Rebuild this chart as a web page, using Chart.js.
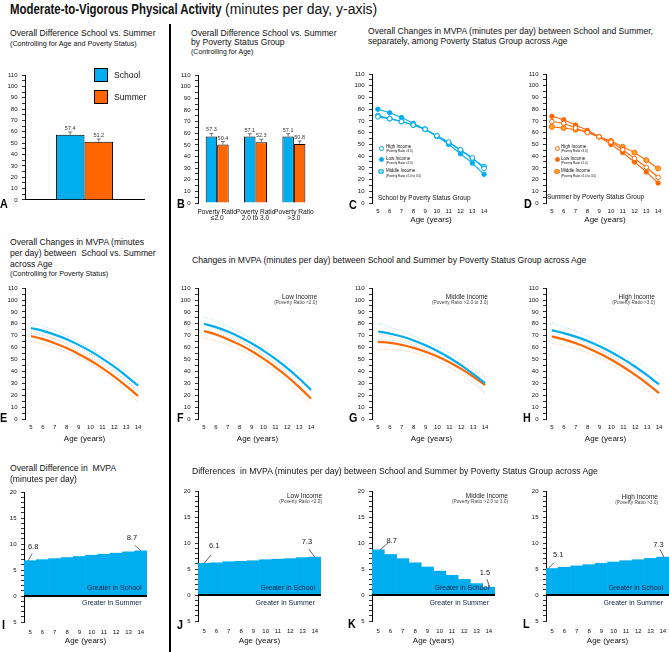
<!DOCTYPE html>
<html lang="en">
<head>
<meta charset="UTF-8" />
<title>Moderate-to-Vigorous Physical Activity</title>
<script src="https://cdn.jsdelivr.net/npm/chart.js"></script>
<style>
  html, body { margin: 0; padding: 0; background: #fff; }
  body { position: relative; width: 669px; height: 652px; overflow: hidden; font-family: "Liberation Sans", Arial, sans-serif; color: #111; }
  canvas { position: absolute; }
  .box { position: absolute; border: 1px solid #000; box-sizing: border-box; }
  .dot { position: absolute; border-radius: 50%; box-sizing: border-box; border: 1px solid; }
  #divider { position: absolute; left: 169px; top: 24px; width: 2px; height: 628px; background: #000; }
</style>
</head>
<body>
<div id="divider"></div>
<script>
const BLUE = '#00AEEF', ORANGE = '#FF6600';
const LIGHT_BLUE = '#80D4F5', LIGHT_ORANGE = '#FFA733';

// ages on the x axis
const ages = ['5', '6', '7', '8', '9', '10', '11', '12', '13', '14'];

// A: overall difference
const overallSchool = [57.4];
const overallSummer = [51.2];
const overallSchoolErr = [2.5];
const overallSummerErr = [2.5];

// B: by poverty group
const groupLabels = [['Poverty Ratio', '\u22642.0'], ['Poverty Ratio', '2.0 to 3.0'], ['Poverty Ratio', '>3.0']];
const groupSchool = [57.3, 57.1, 57.1];
const groupSummer = [50.4, 52.3, 50.8];
const groupSchoolErr = [2.5, 2.5, 2.5];
const groupSummerErr = [2.5, 2.5, 2.5];

// C: school by poverty group
const cHigh = [73.5, 72, 69.5, 66.5, 63, 57.5, 52, 45.5, 38.5, 29.5];
const cLow = [80, 77, 73, 68, 63, 57, 50, 42, 34, 24.5];
const cMid = [74.5, 72, 69.5, 66.5, 63, 57, 51.5, 45, 38, 31];

// D: summer by poverty group
const dHigh = [69.5, 68, 64, 60, 56.5, 52, 45.5, 38, 30.5, 22];
const dLow = [74, 71, 66.5, 62, 56.5, 50, 43, 35, 26.5, 17];
const dMid = [65, 64, 62.5, 61, 56.5, 53, 48, 43, 36.5, 29.5];

// E: overall curves with confidence limits
const eSchool = [76.5, 74.1, 70.9, 67.0, 62.3, 57.0, 50.8, 44.0, 36.3, 28.0];
const eSchoolUp = [81.0, 78.1, 74.4, 70.0, 64.8, 59.5, 53.8, 47.5, 40.3, 33.0];
const eSchoolLo = [72.0, 70.1, 67.4, 64.0, 59.8, 54.5, 47.8, 40.5, 32.3, 23.0];
const eSummer = [69.7, 67.1, 63.7, 59.6, 54.7, 49.2, 42.8, 35.7, 27.8, 19.3];
const eSummerUp = [74.2, 71.1, 67.2, 62.6, 57.2, 51.7, 45.8, 39.2, 31.8, 24.3];
const eSummerLo = [65.2, 63.1, 60.2, 56.6, 52.2, 46.7, 39.8, 32.2, 23.8, 14.3];

// F: low income
const fSchool = [80.0, 77.2, 73.5, 69.0, 63.7, 57.5, 50.5, 42.7, 34.0, 24.5];
const fSchoolUp = [86.0, 82.2, 78.0, 73.0, 67.2, 61.0, 54.5, 47.2, 39.5, 31.0];
const fSchoolLo = [74.0, 72.2, 69.0, 65.0, 60.2, 54.0, 46.5, 38.2, 28.5, 18.0];
const fSummer = [73.9, 71.0, 67.1, 62.5, 57.1, 50.7, 43.6, 35.7, 26.8, 17.2];
const fSummerUp = [79.9, 76.0, 71.6, 66.5, 60.6, 54.2, 47.6, 40.2, 32.3, 23.7];
const fSummerLo = [67.9, 66.0, 62.6, 58.5, 53.6, 47.2, 39.6, 31.2, 21.3, 10.7];

// G: middle income
const gSchool = [73.5, 71.8, 69.3, 66.0, 61.9, 57.1, 51.5, 45.1, 37.9, 30.0];
const gSchoolUp = [80.0, 77.3, 73.8, 70.0, 65.4, 60.6, 55.5, 49.6, 43.4, 37.0];
const gSchoolLo = [67.0, 66.3, 64.8, 62.0, 58.4, 53.6, 47.5, 40.6, 32.4, 23.0];
const gSummer = [64.8, 64.0, 62.3, 59.8, 56.5, 52.5, 47.7, 42.1, 35.7, 28.5];
const gSummerUp = [71.3, 69.5, 66.8, 63.8, 60.0, 56.0, 51.7, 46.6, 41.2, 35.5];
const gSummerLo = [58.3, 58.5, 57.8, 55.8, 53.0, 49.0, 43.7, 37.6, 30.2, 21.5];

// H: high income
const hSchool = [74.5, 72.2, 69.2, 65.5, 61.1, 56.1, 50.3, 43.9, 36.8, 29.0];
const hSchoolUp = [80.5, 77.2, 73.7, 69.5, 64.6, 59.6, 54.3, 48.4, 42.3, 35.5];
const hSchoolLo = [68.5, 67.2, 64.7, 61.5, 57.6, 52.6, 46.3, 39.4, 31.3, 22.5];
const hSummer = [69.4, 66.9, 63.6, 59.7, 55.0, 49.8, 43.7, 37.1, 29.8, 21.7];
const hSummerUp = [75.4, 71.9, 68.1, 63.7, 58.5, 53.3, 47.7, 41.6, 35.3, 28.2];
const hSummerLo = [63.4, 61.9, 59.1, 55.7, 51.5, 46.3, 39.7, 32.6, 24.3, 15.2];

// I-L: school minus summer
const iDiff = [6.8, 7.0, 7.2, 7.4, 7.6, 7.85, 8.05, 8.25, 8.5, 8.7];
const jDiff = [6.1, 6.2, 6.4, 6.5, 6.6, 6.8, 6.9, 7.0, 7.2, 7.3];
const kDiff = [8.7, 7.8, 7.0, 6.2, 5.4, 4.6, 3.8, 3.0, 2.2, 1.5];
const lDiff = [5.1, 5.35, 5.6, 5.85, 6.1, 6.35, 6.6, 6.8, 7.05, 7.3];

Chart.defaults.font.family = '"Liberation Sans", Arial, sans-serif';
Chart.defaults.color = '#111';

const FONT = '"Liberation Sans", Arial, sans-serif';

// whiskers, value labels, zero line, callouts
const deco = {
  id: 'deco',
  afterDatasetsDraw(chart, args, o) {
    const ctx = chart.ctx, ca = chart.chartArea, y = chart.scales.y;
    ctx.save();
    if (o.zero) {
      const y0 = y.getPixelForValue(0);
      ctx.strokeStyle = '#000';
      ctx.lineWidth = 2;
      ctx.beginPath(); ctx.moveTo(ca.left, y0); ctx.lineTo(ca.right, y0); ctx.stroke();
    }
    if (o.err) {
      ctx.font = '5.5px ' + FONT;
      ctx.textAlign = 'center';
      ctx.textBaseline = 'middle';
      chart.data.datasets.forEach((ds, di) => {
        chart.getDatasetMeta(di).data.forEach((bar, i) => {
          const top = y.getPixelForValue(ds.data[i] + ds.err[i]);
          ctx.strokeStyle = '#555';
          ctx.lineWidth = 0.8;
          ctx.beginPath();
          ctx.moveTo(bar.x, bar.y); ctx.lineTo(bar.x, top);
          ctx.moveTo(bar.x - 2, top); ctx.lineTo(bar.x + 2, top);
          ctx.stroke();
          ctx.fillStyle = '#333';
          ctx.fillText(ds.data[i].toFixed(1), bar.x, top - 3.5);
        });
      });
    }
    if (o.notes) {
      const ds = chart.data.datasets[0], meta = chart.getDatasetMeta(0);
      ctx.font = '7.5px ' + FONT;
      ctx.textAlign = 'center';
      ctx.textBaseline = 'middle';
      o.notes.forEach(n => {
        const el = meta.data[n.i];
        ctx.strokeStyle = '#222';
        ctx.lineWidth = 0.7;
        ctx.beginPath();
        ctx.moveTo(el.x + n.x0, el.y); ctx.lineTo(el.x + n.x1, el.y + n.ly);
        ctx.stroke();
        ctx.fillStyle = '#222';
        ctx.fillText(ds.data[n.i].toFixed(1), el.x + n.dx, el.y + n.dy);
      });
    }
    ctx.restore();
  }
};

function yAxis(min, max, step, major) {
  return {
    min, max,
    ticks: { stepSize: step, autoSkip: false, font: { size: 6 }, padding: 4.5, color: '#111',
      callback: v => (v % major === 0 ? String(Math.abs(v)) : '') },
    grid: { drawOnChartArea: false, tickLength: 3, color: '#000', lineWidth: 0.8 },
    border: { color: '#000', width: 1 }
  };
}

function xAges(pad) {
  return {
    type: 'category', offset: true,
    grid: { display: false, drawTicks: false },
    border: { display: false },
    ticks: { font: { size: 6 }, padding: pad, maxRotation: 0, autoSkip: false, color: '#111' },
    title: { display: true, text: 'Age (years)', font: { size: 8 }, padding: 0, color: '#111' }
  };
}

function make(area, cfg, pad) {
  const yw = pad.yw || 24, pt = pad.pt || 6, pr = pad.pr || 4, xh = pad.xh;
  const w = Math.round(area.r - area.l + yw + pr), h = Math.round(area.b - area.t + pt + xh);
  const c = document.createElement('canvas');
  c.width = w; c.height = h;
  c.style.left = (area.l - yw) + 'px';
  c.style.top = (area.t - pt) + 'px';
  c.style.width = w + 'px';
  c.style.height = h + 'px';
  document.body.appendChild(c);
  const o = cfg.options;
  o.responsive = false;
  o.animation = false;
  o.devicePixelRatio = 1;
  o.events = [];
  o.layout = { padding: { top: pt, right: pr, left: 0, bottom: 0 } };
  o.scales.y.afterFit = s => { s.width = yw; };
  o.scales.x.afterFit = s => { s.height = xh; };
  o.plugins = Object.assign({ legend: { display: false }, tooltip: { enabled: false } }, o.plugins || {});
  cfg.plugins = [deco];
  return new Chart(c, cfg);
}

function barSet(data, err, color, cp) {
  return { data, err, backgroundColor: color, borderColor: '#000', borderWidth: 1,
    categoryPercentage: cp, barPercentage: 1 };
}

function pointSet(data, color, fill, r) {
  return { data, borderColor: color, borderWidth: 1.1, pointRadius: r, pointBorderWidth: 1,
    pointBackgroundColor: fill, pointBorderColor: color, tension: 0 };
}

function curves(s, sUp, sLo, su, suUp, suLo) {
  const main = (data, color) => ({ data, borderColor: color, borderWidth: 2.2, pointRadius: 0,
    cubicInterpolationMode: 'monotone' });
  const dotted = (data, color) => ({ data, borderColor: color, borderWidth: 0.8, borderDash: [1.2, 1.6],
    pointRadius: 0, cubicInterpolationMode: 'monotone' });
  return {
    type: 'line',
    data: { labels: ages, datasets: [main(s, BLUE), main(su, ORANGE),
      dotted(sUp, '#8FD8F5'), dotted(sLo, '#9BCFE0'), dotted(suUp, '#F5B690'), dotted(suLo, '#FFB380')] },
    options: { scales: { x: xAges(4.7), y: yAxis(0, 110, 5, 10) } }
  };
}

function diffBars(data, notes) {
  return {
    type: 'bar',
    data: { labels: ages, datasets: [{ data, backgroundColor: BLUE, borderWidth: 0,
      categoryPercentage: 1, barPercentage: 1 }] },
    options: { scales: { x: xAges(6.5), y: yAxis(-5, 20, 1, 5) }, plugins: { deco: { zero: true, notes } } }
  };
}

// A
make({ l: 25, t: 73, r: 144, b: 204 }, {
  type: 'bar',
  data: { labels: [''], datasets: [
    barSet(overallSchool, overallSchoolErr, BLUE, 0.48),
    barSet(overallSummer, overallSummerErr, ORANGE, 0.48)] },
  options: {
    scales: {
      x: { grid: { display: false, drawTicks: false }, ticks: { display: false },
        border: { display: true, color: '#000', width: 1 } },
      y: yAxis(0, 110, 5, 10)
    },
    plugins: { deco: { err: true } }
  }
}, { xh: 4 });

// B
make({ l: 198, t: 73, r: 318, b: 203 }, {
  type: 'bar',
  data: { labels: groupLabels, datasets: [
    barSet(groupSchool, groupSchoolErr, BLUE, 0.6),
    barSet(groupSummer, groupSummerErr, ORANGE, 0.6)] },
  options: {
    scales: {
      x: { grid: { display: false, drawTicks: false }, border: { display: false },
        ticks: { font: { size: 6.6, lineHeight: 0.95 }, padding: 6, autoSkip: false, maxRotation: 0, color: '#111' } },
      y: yAxis(0, 110, 5, 10)
    },
    plugins: { deco: { err: true } }
  }
}, { xh: 22, pr: 2 });

// C
make({ l: 372, t: 72, r: 491, b: 203 }, {
  type: 'line',
  data: { labels: ages, datasets: [
    pointSet(cHigh, BLUE, '#fff', 2.3),
    pointSet(cMid, BLUE, LIGHT_BLUE, 2.5),
    pointSet(cLow, BLUE, BLUE, 2.2)] },
  options: { scales: { x: xAges(4.4), y: yAxis(0, 110, 5, 10) } }
}, { xh: 22 });

// D
make({ l: 546, t: 72, r: 665, b: 203 }, {
  type: 'line',
  data: { labels: ages, datasets: [
    pointSet(dHigh, ORANGE, '#fff', 2.3),
    pointSet(dMid, ORANGE, LIGHT_ORANGE, 2.5),
    pointSet(dLow, ORANGE, ORANGE, 2.2)] },
  options: { scales: { x: xAges(4.4), y: yAxis(0, 110, 5, 10) } }
}, { xh: 22 });

// E-H
make({ l: 25, t: 286, r: 144, b: 419 }, curves(eSchool, eSchoolUp, eSchoolLo, eSummer, eSummerUp, eSummerLo), { xh: 25 });
make({ l: 198, t: 286, r: 317, b: 419 }, curves(fSchool, fSchoolUp, fSchoolLo, fSummer, fSummerUp, fSummerLo), { xh: 25 });
make({ l: 372, t: 286, r: 491, b: 419 }, curves(gSchool, gSchoolUp, gSchoolLo, gSummer, gSummerUp, gSummerLo), { xh: 25 });
make({ l: 546, t: 286, r: 665, b: 419 }, curves(hSchool, hSchoolUp, hSchoolLo, hSummer, hSummerUp, hSummerLo), { xh: 25 });

// I-L
make({ l: 24, t: 490, r: 147, b: 622 }, diffBars(iDiff, [
  { i: 0, dx: 3, dy: -14, x0: -2, x1: 2, ly: -7 },
  { i: 9, dx: -9, dy: -12.5, x0: 0, x1: -6, ly: -5.5 }]), { xh: 24 });
make({ l: 198, t: 489, r: 321, b: 621 }, diffBars(jDiff, [
  { i: 0, dx: 10, dy: -17, x0: 0, x1: 7, ly: -8.5 },
  { i: 9, dx: -8, dy: -15, x0: 0, x1: -6, ly: -8 }]), { xh: 25 });
make({ l: 372, t: 489, r: 495, b: 621 }, diffBars(kDiff, [
  { i: 0, dx: 13.5, dy: -9, x0: 2, x1: 10, ly: -7 },
  { i: 9, dx: -4, dy: -14, x0: 1, x1: -2, ly: -8 }]), { xh: 25 });
make({ l: 546, t: 489, r: 669, b: 621 }, diffBars(lDiff, [
  { i: 0, dx: 6, dy: -14, x0: -4, x1: 2, ly: -6 },
  { i: 9, dx: -4.5, dy: -12, x0: 1, x1: -3, ly: -8 }]), { xh: 25, pr: 0 });

// text
function T(s, x, cy, size, o) {
  o = o || {};
  const d = document.createElement('div');
  d.textContent = s;
  let st = 'position:absolute;white-space:pre;font-size:' + size + 'px;line-height:' + size + 'px;top:' + (cy - size / 2) + 'px;';
  st += o.right ? 'right:' + (669 - x) + 'px;' : 'left:' + x + 'px;';
  if (o.bold) st += 'font-weight:bold;';
  if (o.color) st += 'color:' + o.color + ';';
  if (o.sx) st += 'transform:scaleX(' + o.sx + ');transform-origin:' + (o.right ? 'right' : 'left') + ' center;';
  d.style.cssText = st;
  document.body.appendChild(d);
}
function box(x, y, w, h, color) {
  const d = document.createElement('div');
  d.className = 'box';
  d.style.cssText = 'left:' + x + 'px;top:' + y + 'px;width:' + w + 'px;height:' + h + 'px;background:' + color;
  document.body.appendChild(d);
}
function dot(x, y, r, fill, stroke) {
  const d = document.createElement('div');
  d.className = 'dot';
  d.style.cssText = 'left:' + (x - r) + 'px;top:' + (y - r) + 'px;width:' + 2 * r + 'px;height:' + 2 * r + 'px;background:' + fill + ';border-color:' + stroke;
  document.body.appendChild(d);
}

T('Moderate-to-Vigorous Physical Activity', 10, 9, 14, { bold: true, sx: 0.814 });
T('(minutes per day, y-axis)', 225, 9, 14);

T('Overall Difference School vs. Summer', 10, 33.5, 8.6);
T('(Controlling for Age and Poverty Status)', 10, 43.5, 7.2);
T('Overall Difference School vs. Summer', 191, 33, 8.6);
T('by Poverty Status Group', 191, 42.7, 8.6);
T('(Controlling for Age)', 191, 51.7, 7);
T('Overall Changes in MVPA (minutes per day) between School and Summer,', 368, 31.5, 8.6);
T('separately, among Poverty Status Group across Age', 368, 41.7, 8.6);

T('Overall Changes in MVPA (minutes', 10, 242, 8.6);
T('per day) between  School vs. Summer', 10, 253, 8.6);
T('across Age', 10, 264, 8.6);
T('(Controlling for Poverty Status)', 10, 274, 7.2);
T('Changes in MVPA (minutes per day) between School and Summer by Poverty Status Group across Age', 192, 260.7, 8.6);

T('Overall Difference in  MVPA', 10, 468, 8.6);
T('(minutes per day)', 10, 479, 8.6);
T('Differences  in MVPA (minutes per day) between School and Summer by Poverty Status Group across Age', 192, 471.5, 8.6);

// panel letters
[['A', 0, 204], ['B', 177, 204], ['C', 349, 205], ['D', 524, 204],
 ['E', 0, 418], ['F', 177, 418], ['G', 349, 418], ['H', 523, 418],
 ['I', 2, 625], ['J', 177, 625], ['K', 348, 624], ['L', 523, 624]].forEach(p => T(p[0], p[1], p[2], 13.5, { bold: true, sx: 0.8, color: '#000' }));

// A legend
box(94, 68, 14, 14, BLUE);
box(94, 90, 14, 14, ORANGE);
T('School', 114, 75, 8.6);
T('Summer', 114, 97.5, 8.6);

// C / D legends
[[381, 386, BLUE, LIGHT_BLUE], [557, 561, ORANGE, LIGHT_ORANGE]].forEach(g => {
  dot(g[0], 148, 2.5, '#fff', g[2]);
  dot(g[0], 159.3, 2.5, g[2], g[2]);
  dot(g[0], 171.7, 2.8, g[3], g[2]);
  T('High Income', g[1], 147.5, 4.5);
  T('(Poverty Ratio >3.0)', g[1], 151.8, 3);
  T('Low Income', g[1], 159, 4.5);
  T('(Poverty Ratio <2.0)', g[1], 163.3, 3);
  T('Middle Income', g[1], 171.5, 4.5);
  T('(Poverty Ratio >2.0 to 3.0)', g[1], 176.2, 3);
});
T('School by Poverty Status Group', 378, 198, 6.5);
T('Summer by Poverty Status Group', 547, 197.7, 6.5);

// income insets
[['Low Income', '(Poverty Ratio <2.0)', 317, 297], ['Middle Income', '(Poverty Ratio >2.0 to 3.0)', 488, 297],
 ['High Income', '(Poverty Ratio >3.0)', 655, 297], ['Low Income', '(Poverty Ratio <2.0)', 322, 496],
 ['Middle Income', '(Poverty Ratio >2.0 to 3.0)', 508, 496.5], ['High Income', '(Poverty Ratio >3.0)', 658, 497]].forEach(p => {
  T(p[0], p[2], p[3], 6.5, { right: true, color: '#222' });
  T(p[1], p[2], p[3] + 6, 4.8, { right: true, color: '#444' });
});

// greater in school / summer
[141.5, 315, 489, 663].forEach(x => {
  T('Greater in School', x, 587.7, 7, { right: true, color: '#10233f' });
  T('Greater in Summer', x, 602, 7, { right: true, color: '#10233f' });
});
</script>
</body>
</html>
